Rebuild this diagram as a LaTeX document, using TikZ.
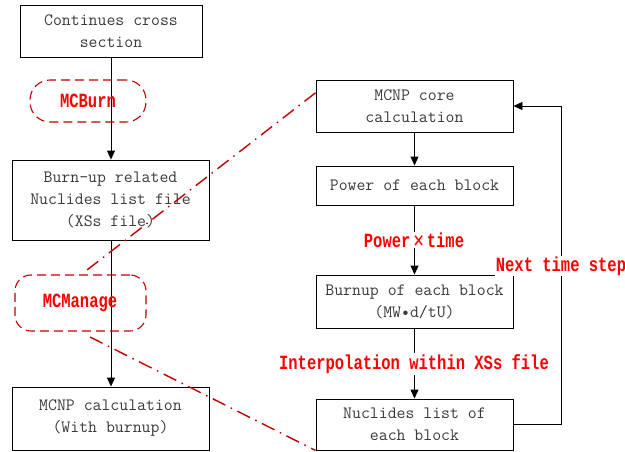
\documentclass[tikz,border=0pt]{standalone}
\usepackage{fontspec}
\setmainfont{Liberation Mono}
\newfontfamily\boxfont{Latin Modern Mono}
\newfontfamily\symfont{DejaVu Sans}
\usetikzlibrary{arrows.meta,calc}
\definecolor{txtgray}{HTML}{3A3A3A}
\definecolor{lblred}{HTML}{FF0000}
\definecolor{dred}{HTML}{C00000}
\newcommand{\tallred}[1]{\scalebox{1}[1.3]{#1}}
\tikzset{
  box/.style={draw=black, line width=0.9pt, align=center, text=txtgray,
    font=\boxfont\fontsize{17.3}{22}\selectfont, inner sep=0pt},
  flow/.style={draw=black, line width=0.9pt, -{Triangle[length=9pt,width=8pt]}},
  lbl/.style={text=lblred, font=\fontsize{15.5}{18}\selectfont\bfseries, inner sep=1pt},
  tool/.style={draw=dred, line width=1.1pt, dash pattern=on 9pt off 5pt},
  link/.style={draw=dred, line width=1.4pt, dash pattern=on 14pt off 6pt on 1.5pt off 6pt}
}
\begin{document}
\begin{tikzpicture}[x=1pt,y=-1pt]
\useasboundingbox (0,0) rectangle (625,451);
% left column
\node[box, minimum width=182pt, minimum height=52pt] (A) at (111,31) {Continues cross\\section};
\node[box, minimum width=197pt, minimum height=80pt] (B) at (110.5,200) {Burn-up related\\Nuclides list file\\(XSs file)};
\node[box, minimum width=197pt, minimum height=63pt] (C) at (110.5,418.5) {MCNP calculation\\(With burnup)};
\draw[flow] (A.south -| 111,0) -- (B.north -| 111,0);
\draw[flow] (B.south -| 111,0) -- (C.north -| 111,0);
\node[tool, rounded corners=20pt, minimum width=116pt, minimum height=42pt] (MB) at (88,101) {};
\node[lbl] (MBt) at (88,101) {\tallred{MCBurn}};
\node[tool, rounded corners=16pt, minimum width=131pt, minimum height=56pt] (MM) at (80.5,303) {};
\node[lbl] (MMt) at (80,303) {\tallred{MCManage}};
% right column
\node[box, minimum width=197pt, minimum height=52pt] (D) at (414.5,106) {MCNP core\\calculation};
\node[box, minimum width=197pt, minimum height=39pt] (E) at (414.5,185.5) {Power of each block};
\node[box, minimum width=197pt, minimum height=53pt] (F) at (414.5,301.5) {Burnup of each block\\(MW•d/tU)};
\node[box, minimum width=197pt, minimum height=51pt] (G) at (414.5,424.5) {Nuclides list of\\each block};
\draw[flow] (D) -- (E);
\draw[flow] (E) -- (F);
\draw[flow] (F) -- (G);
\draw[flow] (G.east) -- ++(48,0) coordinate (ret) |- (D.east);
\node[lbl, fill=white] (pt) at (414,240) {\tallred{Power{\symfont\mdseries\fontsize{14}{14}\selectfont\,✕\,}time}};
\node[lbl, fill=white] (ip) at (414,364) {\tallred{Interpolation within XSs file}};
\node[lbl, fill=white] (nts) at (561,266) {\tallred{Next time step}};
% links
\coordinate (l1) at (87,270);
\coordinate (l2) at (90,337);
\draw[link] ($(D.north west)!0.25!(D.south west)$) -- (l1);
\draw[link] (l2) -- (G.south west);
\end{tikzpicture}
\end{document}
